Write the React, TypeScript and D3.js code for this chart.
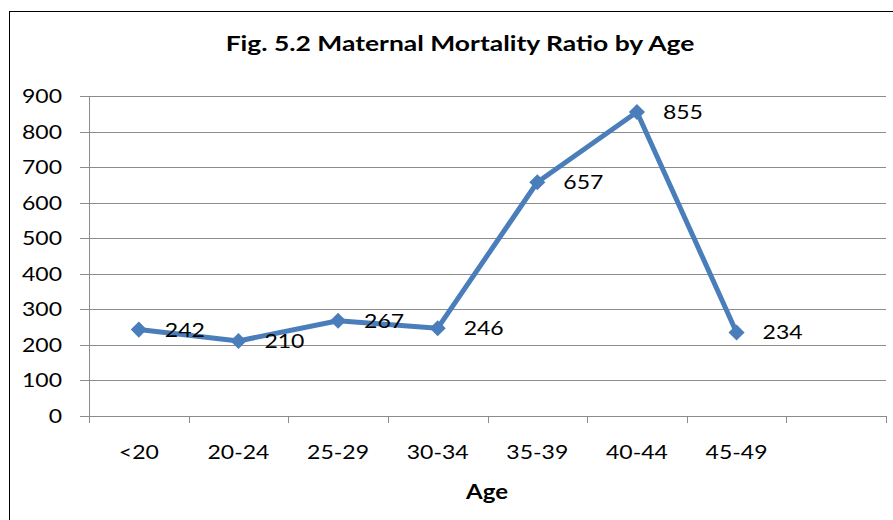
import React from 'react';
import * as d3 from 'd3';

const ages = ['<20', '20-24', '25-29', '30-34', '35-39', '40-44', '45-49'];
const ratios = [242, 210, 267, 246, 657, 855, 234];
const yTicks = [0, 100, 200, 300, 400, 500, 600, 700, 800, 900];

const W = 893;
const H = 520;
const FONT = 'Lato, "Open Sans", sans-serif';
const BLUE = '#4a7ebb';
const GRID = '#8c8c8c';

// texto con un leve estiramiento horizontal (la fuente original es más ancha)
const Txt: React.FC<{ x: number; y: number; anchor?: string; size?: number; bold?: boolean; sx?: number; children: React.ReactNode }> =
    ({ x, y, anchor = 'start', size = 20, bold = false, sx = 1.15, children }) => (
        <text
            transform={`translate(${x},${y}) scale(${sx},1)`}
            dy="0.35em"
            textAnchor={anchor}
            fontFamily={FONT}
            fontWeight={bold ? 'bold' : 'normal'}
            fontSize={size}
            fill="#000"
        >
            {children}
        </text>
    );

const App: React.FC = () => {
    // categorías + una vacía al final, como en el original
    const x = d3.scaleBand<string>()
        .domain([...ages, ''])
        .range([89, 886])
        .paddingInner(0)
        .paddingOuter(0);

    const y = d3.scaleLinear().domain([0, 900]).range([415.5, 96]);

    const line = d3.line<number>()
        .x((_, i) => (x(ages[i]) ?? 0) + x.bandwidth() / 2)
        .y(d => y(d));

    const diamond = d3.symbol().type(d3.symbolDiamond2).size(165)();

    const boundaries = [...ages, ''].map(a => x(a) ?? 0).concat([x.range()[1]]);

    return (
        <svg width={W} height={H} style={{ position: 'absolute', left: 0, top: 0, background: '#fff' }}>
            <rect x={9.5} y={11.5} width={W + 10} height={H + 10} fill="#fff" stroke="#000" strokeWidth={1} />

            <Txt x={460} y={44} anchor="middle" size={21} bold sx={1.26}>
                Fig. 5.2 Maternal Mortality Ratio by Age
            </Txt>

            {/* rejilla */}
            {yTicks.map(t => (
                <g key={t}>
                    <line x1={80} x2={886} y1={Math.round(y(t)) + 0.5} y2={Math.round(y(t)) + 0.5} stroke={GRID} strokeWidth={1} />
                    <Txt x={62} y={y(t)} anchor="end">{t}</Txt>
                </g>
            ))}
            <line x1={89.5} x2={89.5} y1={96} y2={416} stroke={GRID} strokeWidth={1} />
            {boundaries.map((b, i) => (
                <line key={i} x1={Math.round(b) + 0.5} x2={Math.round(b) + 0.5} y1={416} y2={423} stroke={GRID} strokeWidth={1} />
            ))}

            {ages.map(a => (
                <Txt key={a} x={(x(a) ?? 0) + x.bandwidth() / 2} y={452} anchor="middle">{a}</Txt>
            ))}
            <Txt x={487} y={492} anchor="middle" bold sx={1.2}>Age</Txt>

            <path d={line(ratios) || ''} fill="none" stroke={BLUE} strokeWidth={5} strokeLinejoin="round" />
            {ratios.map((v, i) => {
                const cx = (x(ages[i]) ?? 0) + x.bandwidth() / 2;
                const cy = y(v);
                return (
                    <g key={i}>
                        <path d={diamond || ''} transform={`translate(${cx},${cy})`} fill={BLUE} />
                        <Txt x={cx + 26} y={cy}>{v}</Txt>
                    </g>
                );
            })}
        </svg>
    );
};

export default App;
